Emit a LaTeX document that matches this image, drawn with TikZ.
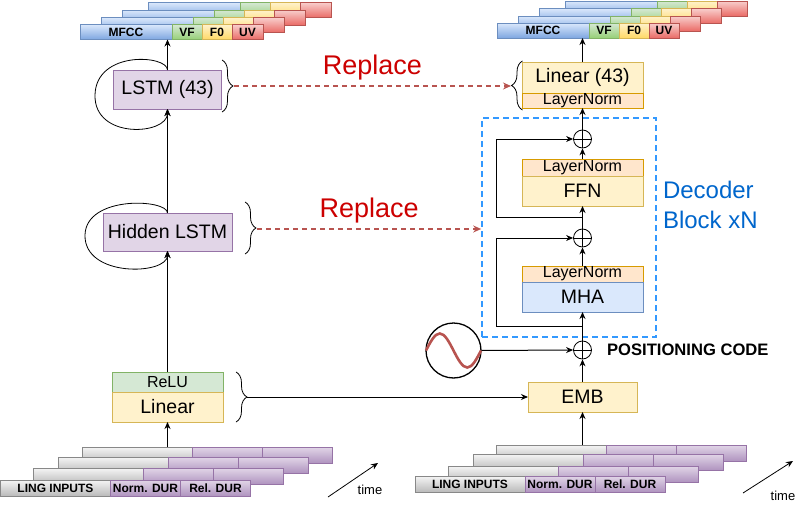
\documentclass[tikz,border=0pt]{standalone}
\usepackage{fontspec}
\setmainfont{Liberation Sans}
\usepackage{xcolor}
\usepackage{tikz}
\usetikzlibrary{arrows.meta,positioning,calc,decorations.pathreplacing}

\definecolor{mfccT}{HTML}{DAE8FC}\definecolor{mfccD}{HTML}{7EA6E0}\definecolor{mfccB}{HTML}{6C8EBF}
\definecolor{vfT}{HTML}{D5E8D4}\definecolor{vfD}{HTML}{97D077}\definecolor{vfB}{HTML}{82B366}
\definecolor{fzT}{HTML}{FFF2CC}\definecolor{fzD}{HTML}{FFD966}\definecolor{fzB}{HTML}{D6B656}
\definecolor{uvT}{HTML}{F8CECC}\definecolor{uvD}{HTML}{EA6B66}\definecolor{uvB}{HTML}{B85450}
\definecolor{lingT}{HTML}{F5F5F5}\definecolor{lingD}{HTML}{B8B8B8}\definecolor{lingB}{HTML}{888888}
\definecolor{durT}{HTML}{E1D5E7}\definecolor{durD}{HTML}{AE92BE}\definecolor{durB}{HTML}{9673A6}
\definecolor{lnF}{HTML}{FFE6CC}\definecolor{lnB}{HTML}{D79B00}
\definecolor{repC}{HTML}{CC0000}\definecolor{decC}{HTML}{0066CC}\definecolor{decB}{HTML}{3399FF}

\begin{document}
\begin{tikzpicture}[x=1pt, y=-1pt,
  box/.style={draw, inner sep=0pt, outer sep=0pt, line width=0.8pt, font=\fontsize{19.5}{22}\selectfont},
  sub/.style={draw, inner sep=0pt, outer sep=0pt, line width=0.8pt, font=\fontsize{16}{18}\selectfont},
  cell/.style={draw, inner sep=0pt, outer sep=0pt, line width=0.8pt, anchor=north west, font=\bfseries\fontsize{12}{14}\selectfont},
  fmfcc/.style={draw=mfccB, top color=mfccT, bottom color=mfccD},
  fvf/.style={draw=vfB, top color=vfT, bottom color=vfD},
  ffz/.style={draw=fzB, top color=fzT, bottom color=fzD},
  fuv/.style={draw=uvB, top color=uvT, bottom color=uvD},
  fling/.style={draw=lingB, top color=lingT, bottom color=lingD},
  fdur/.style={draw=durB, top color=durT, bottom color=durD},
  lstmc/.style={fill=durT, draw=durB},
  ylw/.style={fill=fzT, draw=fzB},
  grn/.style={fill=vfT, draw=vfB},
  ln/.style={fill=lnF, draw=lnB},
  blu/.style={fill=mfccT, draw=mfccB},
  plus/.style={circle, draw, line width=0.8pt, minimum size=18pt, inner sep=0pt,
    path picture={\draw[line width=0.8pt] (path picture bounding box.north) -- (path picture bounding box.south)
      (path picture bounding box.west) -- (path picture bounding box.east);}},
  arr/.style={line width=1pt, -{Stealth[length=7pt,width=6pt]}},
  loopy/.style={line width=0.8pt, -{Stealth[length=7pt,width=6pt]}},
  brc/.style={line width=0.8pt, decorate, decoration={brace, amplitude=11pt}},
  rep/.style={uvB, line width=1.3pt, dash pattern=on 5pt off 4pt, -{Stealth[length=8pt,width=7pt]}},
  replbl/.style={repC, font=\fontsize{27}{30}\selectfont, inner sep=0pt},
  decbox/.style={draw=decB, line width=1.6pt, dash pattern=on 6pt off 4pt},
  declbl/.style={decC, align=left, inner sep=0pt, font=\fontsize{24}{30}\selectfont},
  timelbl/.style={font=\fontsize{13}{15}\selectfont, inner sep=0pt}
]
\useasboundingbox (0,0) rectangle (804,506);

% output stacks (back rows first)
\foreach \dx/\dy in {68/22,42/14.5,21/7}{
  \draw[fmfcc] (80+\dx,24.5-\dy) rectangle ++(92,15);
  \draw[fvf] (172+\dx,24.5-\dy) rectangle ++(30,15);
  \draw[ffz] (202+\dx,24.5-\dy) rectangle ++(30,15);
  \draw[fuv] (232+\dx,24.5-\dy) rectangle ++(31,15);
  \draw[fmfcc] (497+\dx,23-\dy) rectangle ++(92,15);
  \draw[fvf] (589+\dx,23-\dy) rectangle ++(30,15);
  \draw[ffz] (619+\dx,23-\dy) rectangle ++(30,15);
  \draw[fuv] (649+\dx,23-\dy) rectangle ++(30,15);
}
\node[cell, fmfcc, minimum width=92pt, minimum height=15pt] (mfccL) at (80,24.5) {MFCC};
\node[cell, fvf, minimum width=30pt, minimum height=15pt, right=0pt of mfccL] (vfL) {VF};
\node[cell, ffz, minimum width=30pt, minimum height=15pt, right=0pt of vfL] (fzL) {F0};
\node[cell, fuv, minimum width=31pt, minimum height=15pt, right=0pt of fzL] (uvL) {UV};
\node[cell, fmfcc, minimum width=92pt, minimum height=15pt] (mfccR) at (497,23) {MFCC};
\node[cell, fvf, minimum width=30pt, minimum height=15pt, right=0pt of mfccR] (vfR) {VF};
\node[cell, ffz, minimum width=30pt, minimum height=15pt, right=0pt of vfR] (fzR) {F0};
\node[cell, fuv, minimum width=30pt, minimum height=15pt, right=0pt of fzR] (uvR) {UV};

% input stacks
\foreach \dx/\dy in {82/33,58/23,33/12}{
  \draw[fling] (0.5+\dx,480-\dy) rectangle ++(110,16.5);
  \draw[fdur] (110.5+\dx,480-\dy) rectangle ++(70,16.5);
  \draw[fdur] (180.5+\dx,480-\dy) rectangle ++(70,16.5);
}
\foreach \dx/\dy in {81/31,58/22,33/10}{
  \draw[fling] (415+\dx,476-\dy) rectangle ++(110,16.5);
  \draw[fdur] (525+\dx,476-\dy) rectangle ++(70,16.5);
  \draw[fdur] (595+\dx,476-\dy) rectangle ++(70,16.5);
}
\node[cell, fling, minimum width=110pt, minimum height=16.5pt] (lingL) at (0.5,480) {LING INPUTS};
\node[cell, fdur, minimum width=70pt, minimum height=16.5pt, right=0pt of lingL] (normL) {Norm. DUR};
\node[cell, fdur, minimum width=70pt, minimum height=16.5pt, right=0pt of normL] (relL) {Rel. DUR};
\node[cell, fling, minimum width=110pt, minimum height=16.5pt] (lingR) at (415,476) {LING INPUTS};
\node[cell, fdur, minimum width=70pt, minimum height=16.5pt, right=0pt of lingR] (normR) {Norm. DUR};
\node[cell, fdur, minimum width=70pt, minimum height=16.5pt, right=0pt of normR] (relR) {Rel. DUR};
\coordinate (inL) at (167.5,447);
\coordinate (inR) at (582.5,445);

% left model
\node[box, lstmc, minimum width=108pt, minimum height=39pt] (lstm) at (167.5,89.5) {LSTM (43)};
\node[box, lstmc, minimum width=129pt, minimum height=38pt] (hid) at (167.5,232) {Hidden LSTM};
\node[sub, grn, minimum width=111pt, minimum height=20pt] (relu) at (167.5,382) {ReLU};
\node[box, ylw, minimum width=111pt, minimum height=30pt, below=0pt of relu] (lin) {Linear};

% right model
\node[box, ylw, minimum width=121pt, minimum height=31pt] (lin43) at (582.5,77.5) {Linear (43)};
\node[sub, ln, minimum width=121pt, minimum height=15pt, below=0pt of lin43] (ln43) {LayerNorm};
\node[plus] (p2) at (582.5,139) {};
\node[sub, ln, minimum width=121pt, minimum height=17pt] (lnf) at (582.5,167.5) {LayerNorm};
\node[box, ylw, minimum width=121pt, minimum height=30pt, below=0pt of lnf] (ffn) {FFN};
\node[plus] (p1) at (582.5,238) {};
\node[sub, ln, minimum width=121pt, minimum height=16pt] (lnm) at (582.5,274) {LayerNorm};
\node[box, blu, minimum width=121pt, minimum height=30pt, below=0pt of lnm] (mha) {MHA};
\node[plus] (p0) at (582.5,350) {};
\node[box, ylw, minimum width=109pt, minimum height=30pt] (emb) at (582.5,397) {EMB};
\node[decbox, minimum width=174pt, minimum height=219pt] (dec) at (569,227.5) {};
\node[declbl, right=6pt of dec, yshift=22.5pt] (declbl) {Decoder\\Block xN};
\node[circle, draw, line width=1.3pt, minimum size=55pt, inner sep=0pt] (pe) at (453.5,350.5) {};
\draw[uvB, line width=2.6pt] ($(pe.center)+(-27.5,0)$) sin ++(13.75,-17) cos ++(13.75,17) sin ++(13.75,17) cos ++(13.75,-17);
\node[right=15pt of p0, inner sep=0pt, font=\bfseries\fontsize{16.6}{18}\selectfont] (poslbl) {POSITIONING CODE};

% main flow
\draw[arr] (inL) -- (lin.south);
\draw[arr] (relu.north) -- (hid.south);
\draw[arr] (hid.north) -- (lstm.south);
\draw[arr] (lstm.north) -- (lstm.north |- mfccL.south);
\draw[loopy] (lstm.north) .. controls (167.5,55) and (96,50) .. (95,95) .. controls (94,140) and (167.5,135) .. (lstm.south);
\draw[loopy] (hid.north) .. controls (167.5,199) and (86,195) .. (85,235) .. controls (84,278) and (167.5,275) .. (hid.south);
\draw[arr] (inR) -- (emb.south);
\draw[arr] (emb.north) -- (p0.south);
\draw[arr] (pe.east) -- (p0.west);
\draw[arr] (p0.north) -- (mha.south);
\draw[arr] (lnm.north) -- (p1.south);
\draw[arr] (p1.north) -- (ffn.south);
\draw[arr] (lnf.north) -- (p2.south);
\draw[arr] (p2.north) -- (ln43.south);
\draw[arr] (lin43.north) -- (lin43.north |- mfccR.south);
\coordinate (s1) at ($(p0.north)!0.5!(mha.south)$);
\coordinate (s2) at ($(p1.north)!0.5!(ffn.south)$);
\draw[arr] (s1) -- ++(-86.5,0) |- (p1.west);
\draw[arr] (s2) -- ++(-86.5,0) |- (p2.west);

% braces and replacements
\draw[brc] (222,60) -- (222,112);
\draw[brc] (245,202) -- (245,254);
\draw[brc] (236,372) -- (236,422);
\draw[brc] (522.5,110) -- (522.5,61);
\coordinate (b1) at (234,86);
\coordinate (b1r) at (511,86);
\coordinate (b2) at (257,229);
\coordinate (b3) at (247,397);
\draw[rep] (b1) -- node[replbl, above=5pt]{Replace} (b1r);
\draw[rep] (b2) -- node[replbl, above=5pt]{Replace} (b2 -| dec.west);
\draw[arr] (b3) -- (b3 -| emb.west);

% time arrows
\coordinate (tl0) at (328,497);
\coordinate (tl1) at (378,463);
\coordinate (tr0) at (743,493);
\coordinate (tr1) at (793,461);
\draw[line width=0.8pt, -{Stealth[length=7pt,width=6pt]}] (tl0) -- (tl1);
\draw[line width=0.8pt, -{Stealth[length=7pt,width=6pt]}] (tr0) -- (tr1);
\node[timelbl] (timeL) at (370,490) {time};
\node[timelbl] (timeR) at (783,496) {time};
\end{tikzpicture}
\end{document}
